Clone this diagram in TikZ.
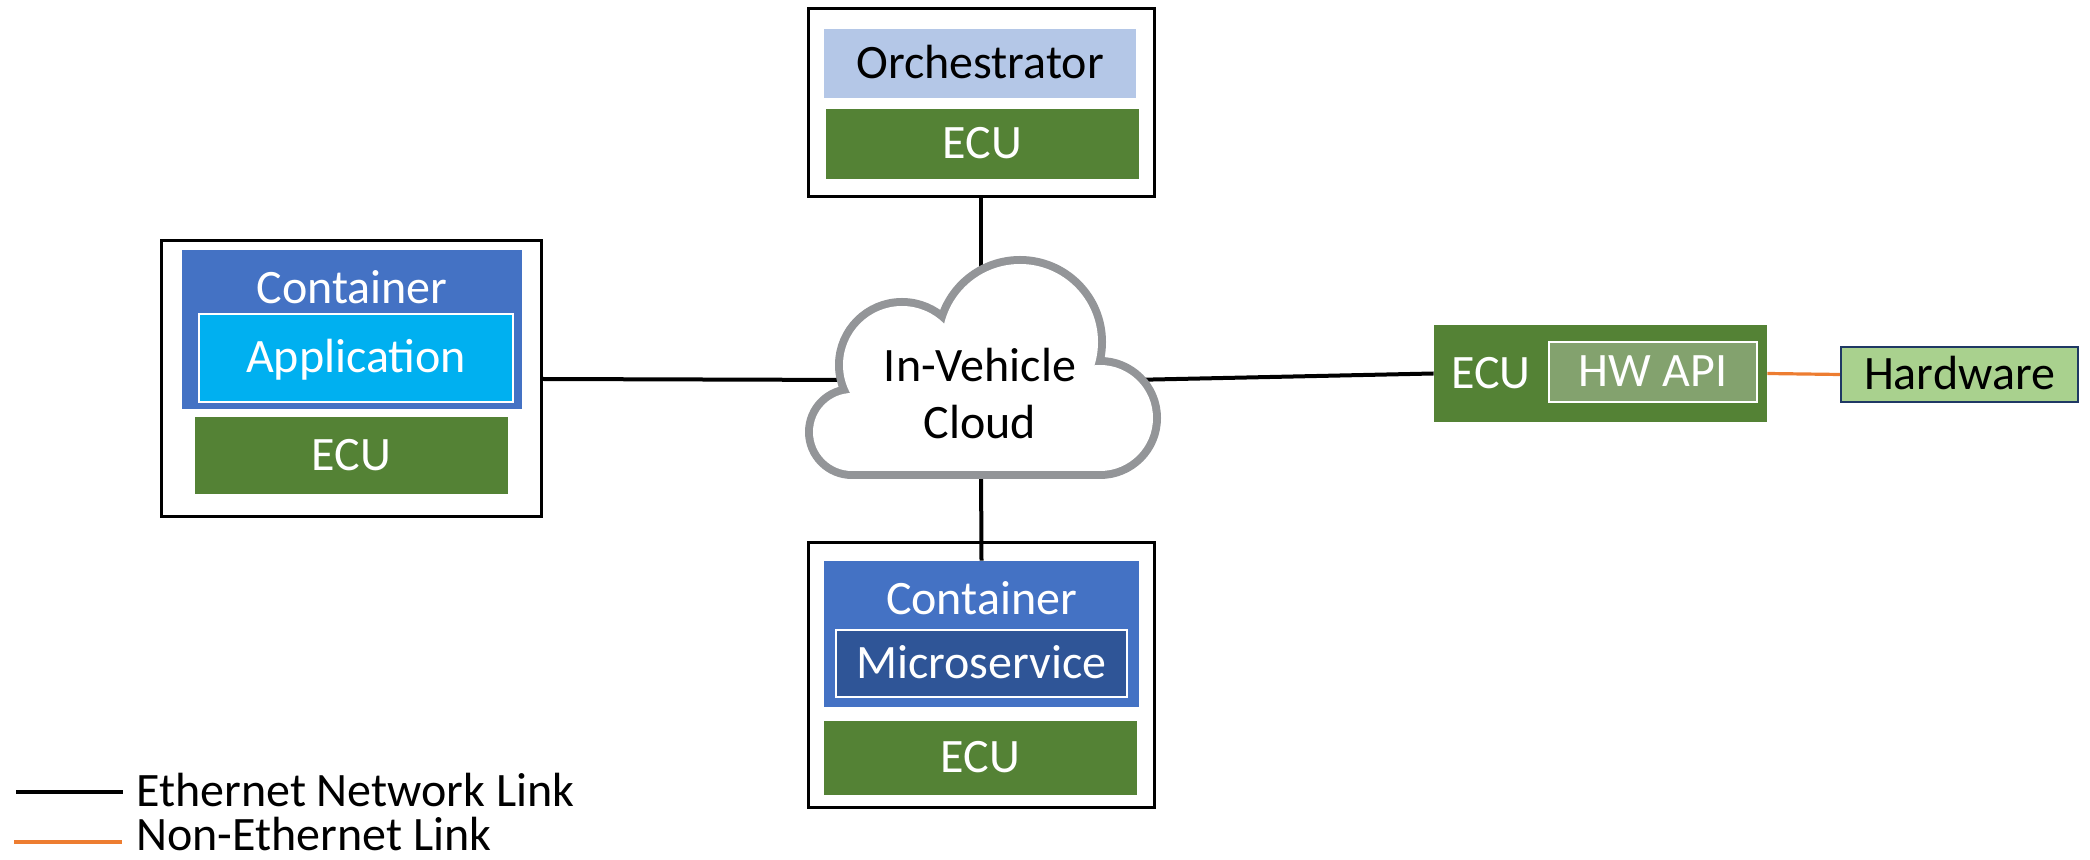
\documentclass[tikz,border=0pt]{standalone}
\usepackage{fontspec}
\setmainfont{Carlito}
\pgfdeclarelayer{linkl}
\pgfdeclarelayer{cloudl}
\pgfsetlayers{linkl,cloudl,main}
\definecolor{ecugreen}{HTML}{548235}
\definecolor{orchblue}{HTML}{B4C7E7}
\definecolor{contblue}{HTML}{4472C4}
\definecolor{appblue}{HTML}{00B0F0}
\definecolor{microblue}{HTML}{2F5597}
\definecolor{apigreen}{RGB}{131,162,110}
\definecolor{hwgreen}{HTML}{A9D18E}
\definecolor{hwnavy}{HTML}{1F3864}
\definecolor{linkorange}{HTML}{ED7D31}
\definecolor{cloudgray}{RGB}{147,149,152}
\tikzset{
  txt/.style={font=\fontsize{24}{28.5}\selectfont, text height=15.2pt, text depth=0.6pt, inner sep=0pt},
  outerbox/.style={draw=black, line width=1.5pt, inner sep=0pt},
  fillbox/.style={txt, draw=none},
  ecubox/.style={fillbox, fill=ecugreen, text=white},
  contbox/.style={fillbox, fill=contblue},
  innerbox/.style={txt, draw=white, line width=1pt, text=white},
  link/.style={draw=black, line width=2pt},
  nonlink/.style={draw=linkorange, line width=1.6pt},
  legtxt/.style={font=\fontsize{24}{28.5}\selectfont, anchor=base west, inner sep=0pt, text depth=0pt},
}
\begin{document}
\begin{tikzpicture}[x=0.5pt, y=-0.5pt]
\useasboundingbox (0,0) rectangle (2090,860);

% top: orchestrator
\node[outerbox, minimum width=173pt, minimum height=94pt] (topbox) at (981,103) {};
\node[fillbox, fill=orchblue, minimum width=156pt, minimum height=34.5pt] (orch) at (980,64) {Orchestrator};
\node[ecubox, minimum width=156.5pt, minimum height=35pt] (ecuT) at (982.5,144) {ECU};

% left: application
\node[outerbox, minimum width=190pt, minimum height=138pt] (leftbox) at (351,379) {};
\node[contbox, minimum width=170pt, minimum height=79.5pt] (contL) at (352,329.5) {};
\node[txt, text=white] (contLlbl) at (352,289) {Container};
\node[innerbox, fill=appblue, minimum width=157pt, minimum height=44pt] (appL) at (356,358) {Application};
\node[ecubox, minimum width=156.5pt, minimum height=38.5pt] (ecuL) at (351.5,456) {ECU};

% bottom: microservice
\node[outerbox, minimum width=173pt, minimum height=132.5pt] (botbox) at (981,675.5) {};
\node[contbox, minimum width=157.5pt, minimum height=73pt] (contB) at (981.5,634) {};
\node[txt, text=white] (contBlbl) at (981.5,600) {Container};
\node[innerbox, fill=microblue, minimum width=145.5pt, minimum height=33.5pt] (micro) at (981.5,664) {Microservice};
\node[ecubox, minimum width=156.5pt, minimum height=37pt] (ecuB) at (980.5,758) {ECU};

% right: ECU with HW API, hardware
\node[fillbox, fill=ecugreen, minimum width=166.5pt, minimum height=48.5pt] (ecuR) at (1600.5,373.5) {};
\node[txt, text=white] (ecuRlbl) at (1491,374) {ECU};
\node[innerbox, fill=apigreen, minimum width=104pt, minimum height=30pt] (hwapi) at (1653,372) {HW API};
\node[txt, draw=hwnavy, line width=1.2pt, fill=hwgreen, minimum width=118.5pt, minimum height=27.5pt] (hw) at (1959.5,374.5) {Hardware};

% cloud
\coordinate (cloudN) at (981,280);
\coordinate (cloudW) at (860,380);
\coordinate (cloudE) at (1130,380);
\coordinate (cloudS) at (981,465);
\begin{pgfonlayer}{cloudl}
\draw[cloudgray, line width=8pt, line join=round]
  (1020,342) circle[radius=78] (902,365) circle[radius=59]
  (852,432) circle[radius=39] (1100,418) circle[radius=53]
  (852,432) -- (902,365) -- (1020,342) -- (1100,418) -- (1100,471) -- (852,471) -- cycle;
\fill[white] (1020,342) circle[radius=78];
\fill[white] (902,365) circle[radius=59];
\fill[white] (852,432) circle[radius=39];
\fill[white] (1100,418) circle[radius=53];
\fill[white] (852,432) -- (902,365) -- (1020,342) -- (1100,418) -- (1100,471) -- (852,471) -- cycle;
\end{pgfonlayer}
\node[font=\fontsize{24}{28.5}\selectfont, align=center, inner sep=0pt] (cloud) at (980,394) {In-Vehicle\\Cloud};

% connectors
\begin{pgfonlayer}{linkl}
\draw[link] (topbox.south) -- (cloudN);
\draw[link] (leftbox.east) -- (cloudW);
\draw[link] (cloudE) -- (ecuR.west);
\draw[link] (cloudS) -- (contB.north);
\end{pgfonlayer}
\draw[nonlink] (ecuR.east) -- (hw.west);

% legend
\coordinate (l1a) at (16,792);
\coordinate (l1b) at (123,792);
\coordinate (l2a) at (14,842);
\coordinate (l2b) at (122,842);
\draw[link] (l1a) -- (l1b);
\draw[nonlink] (l2a) -- (l2b);
\node[legtxt] (leg1) at (136,807) {Ethernet Network Link};
\node[legtxt] (leg2) at (136,851) {Non-Ethernet Link};
\end{tikzpicture}
\end{document}
